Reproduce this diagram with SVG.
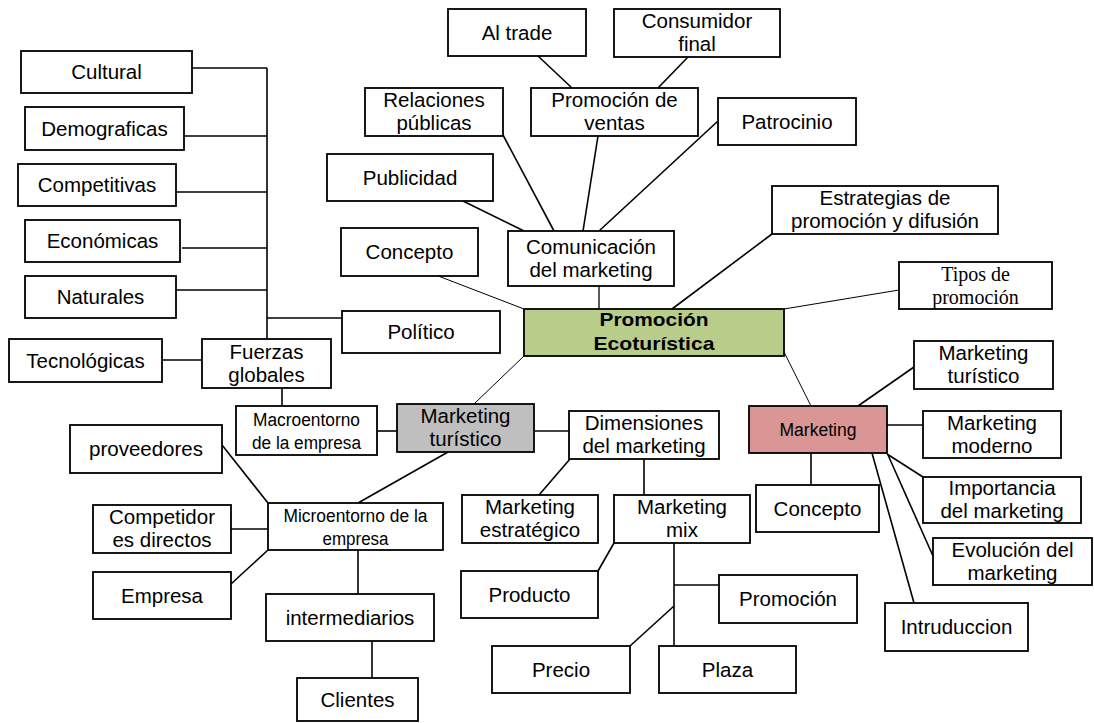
<svg xmlns="http://www.w3.org/2000/svg" width="1094" height="723" viewBox="0 0 1094 723">
<style>
.b{fill:#fff;stroke:#000;stroke-width:1.8}
.t{font-family:"Liberation Sans",Arial,sans-serif;font-size:20.5px;fill:#000;text-anchor:middle}
.n{font-family:"Liberation Sans Narrow","Liberation Sans",Arial,sans-serif;font-size:18px;fill:#000;text-anchor:middle}
.s{font-family:"Liberation Serif","Times New Roman",serif;font-size:20px;fill:#000;text-anchor:middle}
.bd{font-family:"Liberation Sans",Arial,sans-serif;font-size:18.5px;font-weight:bold;fill:#000;text-anchor:middle}
.c path{fill:none;stroke:#000;stroke-width:1.6}
.c path.th{stroke-width:1}
</style>
<rect width="1094" height="723" fill="#fff"/>
<g id="connectors" class="c">
<path d="M267,68V339"/>
<path d="M192,68H267"/>
<path d="M184,136H267"/>
<path d="M176,192H267"/>
<path d="M182,248H267"/>
<path d="M176,290H267"/>
<path d="M267,318H342"/>
<path d="M162,360H202"/>
<path d="M282,388V406"/>
<path d="M377,431H397"/>
<path d="M534,431H569"/>
<path d="M570,459L539,495"/>
<path d="M644,459V495"/>
<path d="M614,543L598,571"/>
<path d="M674,543V646"/>
<path d="M674,585H719"/>
<path d="M674,606L630,646"/>
<path d="M448,452L358,503"/>
<path d="M222,445L268,503"/>
<path d="M231,529H268"/>
<path d="M231,584L268,550"/>
<path d="M358,550V594"/>
<path d="M372,641V678"/>
<path d="M538,56L572,88"/>
<path d="M688,57L658,88"/>
<path d="M463,201L524,231"/>
<path d="M503,135L554,231"/>
<path d="M598,136L583,231"/>
<path d="M718,121L599,231"/>
<path d="M599,286V309" style="stroke-width:1.3"/>
<path class="th" d="M433,274L524,309"/>
<path d="M772,234L672,309"/>
<path class="th" d="M899,290L784,309"/>
<path class="th" d="M524,356L474,404"/>
<path class="th" d="M784,352L811,406"/>
<path d="M914,367L858,406"/>
<path d="M887,425H923"/>
<path d="M811,453V485"/>
<path d="M887,454L923,477"/>
<path d="M888,455L933,556"/>
<path d="M872,453L914,603"/>
</g>
<g id="cultural"><rect class="b" x="21" y="51" width="171" height="42"/><text class="t" x="106.5" y="79">Cultural</text></g>
<g id="demograficas"><rect class="b" x="25" y="107" width="159" height="43"/><text class="t" x="104.5" y="135.5">Demograficas</text></g>
<g id="competitivas"><rect class="b" x="18" y="164" width="158" height="42"/><text class="t" x="97" y="192">Competitivas</text></g>
<g id="economicas"><rect class="b" x="25" y="220" width="155" height="42"/><text class="t" x="102.5" y="248">Económicas</text></g>
<g id="naturales"><rect class="b" x="25" y="276" width="151" height="42"/><text class="t" x="100.5" y="304">Naturales</text></g>
<g id="politico"><rect class="b" x="342" y="311" width="158" height="42"/><text class="t" x="421" y="339">Político</text></g>
<g id="tecnologicas"><rect class="b" x="9" y="339" width="153" height="43"/><text class="t" x="85.5" y="367.5">Tecnológicas</text></g>
<g id="fuerzas-globales"><rect class="b" x="202" y="339" width="129" height="49"/><text class="t" x="266.5" y="359"><tspan x="266.5">Fuerzas</tspan><tspan x="266.5" dy="23">globales</tspan></text></g>
<g id="macroentorno"><rect class="b" x="236" y="406" width="141" height="49"/><text class="n" x="306.5" y="425.5" textLength="107" lengthAdjust="spacingAndGlyphs">Macroentorno</text><text class="n" x="306.5" y="448.5" textLength="109" lengthAdjust="spacingAndGlyphs">de la empresa</text></g>
<g id="marketing-turistico-centro"><rect x="397" y="404" width="137" height="48" fill="#bfbfbf" stroke="#000" stroke-width="1.8"/><text class="t" x="465.5" y="423"><tspan x="465.5">Marketing</tspan><tspan x="465.5" dy="23">turístico</tspan></text></g>
<g id="dimensiones"><rect class="b" x="569" y="411" width="150" height="48"/><text class="t" x="644" y="430"><tspan x="644">Dimensiones</tspan><tspan x="644" dy="23">del marketing</tspan></text></g>
<g id="marketing-estrategico"><rect class="b" x="462" y="495" width="136" height="48"/><text class="t" x="530" y="514"><tspan x="530">Marketing</tspan><tspan x="530" dy="23">estratégico</tspan></text></g>
<g id="marketing-mix"><rect class="b" x="614" y="495" width="136" height="48"/><text class="t" x="682" y="514"><tspan x="682">Marketing</tspan><tspan x="682" dy="23">mix</tspan></text></g>
<g id="producto"><rect class="b" x="461" y="571" width="137" height="47"/><text class="t" x="529.5" y="601.5">Producto</text></g>
<g id="promocion-mix"><rect class="b" x="719" y="575" width="138" height="48"/><text class="t" x="788" y="606">Promoción</text></g>
<g id="precio"><rect class="b" x="492" y="646" width="138" height="47"/><text class="t" x="561" y="676.5">Precio</text></g>
<g id="plaza"><rect class="b" x="659" y="646" width="137" height="47"/><text class="t" x="727.5" y="676.5">Plaza</text></g>
<g id="proveedores"><rect class="b" x="70" y="425" width="152" height="48"/><text class="t" x="146" y="456">proveedores</text></g>
<g id="microentorno"><rect class="b" x="268" y="503" width="175" height="47"/><text class="n" x="355.5" y="521.5" textLength="144" lengthAdjust="spacingAndGlyphs">Microentorno de la</text><text class="n" x="355.5" y="544.5" textLength="66" lengthAdjust="spacingAndGlyphs">empresa</text></g>
<g id="competidores"><rect class="b" x="93" y="505" width="138" height="48"/><text class="t" x="162" y="524"><tspan x="162">Competidor</tspan><tspan x="162" dy="23">es directos</tspan></text></g>
<g id="empresa"><rect class="b" x="93" y="572" width="138" height="47"/><text class="t" x="162" y="602.5">Empresa</text></g>
<g id="intermediarios"><rect class="b" x="266" y="594" width="168" height="47"/><text class="t" x="350" y="624.5">intermediarios</text></g>
<g id="clientes"><rect class="b" x="297" y="678" width="121" height="43"/><text class="t" x="357.5" y="707">Clientes</text></g>
<g id="al-trade"><rect class="b" x="448" y="9" width="138" height="47"/><text class="t" x="517" y="39.5">Al trade</text></g>
<g id="consumidor-final"><rect class="b" x="614" y="9" width="166" height="48"/><text class="t" x="697" y="28"><tspan x="697">Consumidor</tspan><tspan x="697" dy="23">final</tspan></text></g>
<g id="relaciones-publicas"><rect class="b" x="365" y="88" width="138" height="48"/><text class="t" x="434" y="107"><tspan x="434">Relaciones</tspan><tspan x="434" dy="23">públicas</tspan></text></g>
<g id="promocion-ventas"><rect class="b" x="531" y="88" width="167" height="48"/><text class="t" x="614.5" y="107"><tspan x="614.5">Promoción de</tspan><tspan x="614.5" dy="23">ventas</tspan></text></g>
<g id="patrocinio"><rect class="b" x="718" y="98" width="138" height="47"/><text class="t" x="787" y="128.5">Patrocinio</text></g>
<g id="publicidad"><rect class="b" x="327" y="154" width="166" height="47"/><text class="t" x="410" y="184.5">Publicidad</text></g>
<g id="concepto-promocion"><rect class="b" x="341" y="228" width="137" height="48"/><text class="t" x="409.5" y="259">Concepto</text></g>
<g id="comunicacion"><rect class="b" x="508" y="231" width="166" height="55"/><text class="t" x="591" y="254"><tspan x="591">Comunicación</tspan><tspan x="591" dy="23">del marketing</tspan></text></g>
<g id="promocion-ecoturistica"><rect x="524" y="309" width="260" height="47" fill="#b9cd8b" stroke="#000" stroke-width="1.8"/><text class="bd" x="654" y="326" textLength="109" lengthAdjust="spacingAndGlyphs">Promoción</text><text class="bd" x="654" y="350" textLength="121" lengthAdjust="spacingAndGlyphs">Ecoturística</text></g>
<g id="estrategias"><rect class="b" x="772" y="186" width="226" height="48"/><text class="t" x="885" y="205"><tspan x="885">Estrategias de</tspan><tspan x="885" dy="23">promoción y difusión</tspan></text></g>
<g id="tipos-promocion"><rect class="b" x="899" y="262" width="153" height="47"/><text class="s" x="975.5" y="280.5"><tspan x="975.5">Tipos de</tspan><tspan x="975.5" dy="23">promoción</tspan></text></g>
<g id="marketing-turistico-derecha"><rect class="b" x="914" y="341" width="139" height="48"/><text class="t" x="983.5" y="360"><tspan x="983.5">Marketing</tspan><tspan x="983.5" dy="23">turístico</tspan></text></g>
<g id="marketing"><rect x="749" y="406" width="138" height="47" fill="#d99694" stroke="#000" stroke-width="1.8"/><text class="n" x="818" y="436" textLength="77" lengthAdjust="spacingAndGlyphs">Marketing</text></g>
<g id="marketing-moderno"><rect class="b" x="923" y="411" width="138" height="47"/><text class="t" x="992" y="429.5"><tspan x="992">Marketing</tspan><tspan x="992" dy="23">moderno</tspan></text></g>
<g id="concepto-marketing"><rect class="b" x="756" y="485" width="123" height="47"/><text class="t" x="817.5" y="515.5">Concepto</text></g>
<g id="importancia"><rect class="b" x="923" y="477" width="158" height="46"/><text class="t" x="1002" y="495"><tspan x="1002">Importancia</tspan><tspan x="1002" dy="23">del marketing</tspan></text></g>
<g id="evolucion"><rect class="b" x="933" y="538" width="159" height="47"/><text class="t" x="1012.5" y="556.5"><tspan x="1012.5">Evolución del</tspan><tspan x="1012.5" dy="23">marketing</tspan></text></g>
<g id="intruduccion"><rect class="b" x="885" y="603" width="143" height="48"/><text class="t" x="956.5" y="634">Intruduccion</text></g>
</svg>
